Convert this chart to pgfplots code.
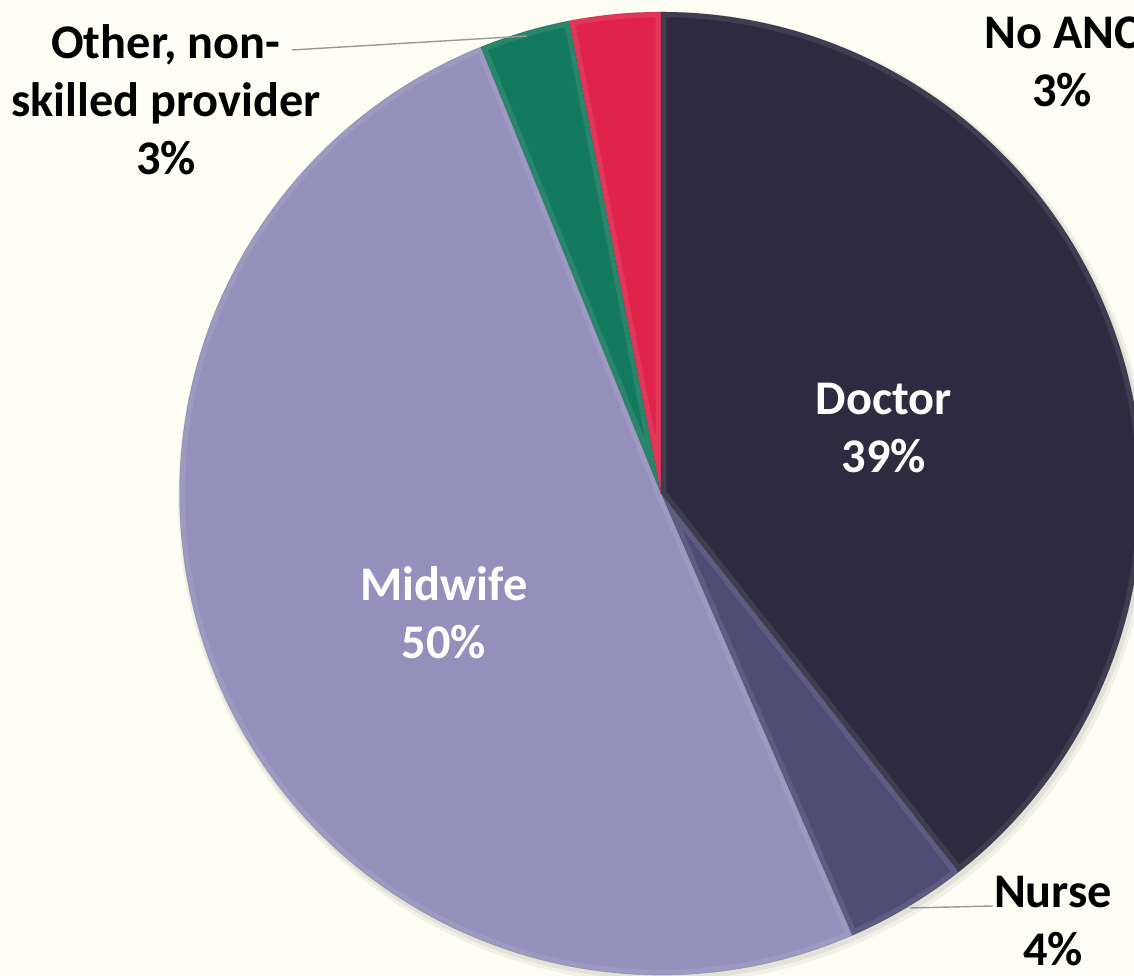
\documentclass[border=0pt]{standalone}
\usepackage{pgfplots}
\pgfplotsset{compat=1.18}
\usepackage{pgfplotstable}
\usepackage{fontspec}
\setmainfont{Carlito}
\definecolor{bg}{HTML}{FEFEF4}
\definecolor{cDoctor}{HTML}{2E2A3F}
\definecolor{cNurse}{HTML}{504C75}
\definecolor{cMidwife}{HTML}{9490BB}
\definecolor{cOther}{HTML}{147A5E}
\definecolor{cNoANC}{HTML}{E0234B}
\pgfplotstableread{
label value
Doctor 39.4
Nurse 4.1
Midwife 50.4
Other 3.05
NoANC 3.05
}\piedata
\newcommand{\piepath}[2]{(axis cs:661,482.5) -- ++(#1:9.63cm) arc[start angle=#1, end angle=#2, radius=9.63cm] -- cycle}
\newcommand{\slice}[3]{%
  \fill[#3] \piepath{#1}{#2};
  \begin{scope}
    \clip \piepath{#1}{#2};
    \draw[white, opacity=0.09, line width=6pt, line join=round] \piepath{#1}{#2};
  \end{scope}
  \draw[black, opacity=0.15, line width=0.3pt] \piepath{#1}{#2};
}
\begin{document}
\begin{tikzpicture}
\useasboundingbox (0,0) rectangle (22.68,19.52);
\clip (0,0) rectangle (22.68,19.52);
\fill[bg] (0,0) rectangle (22.68,19.52);
\begin{axis}[at={(0,0)}, anchor=south west, scale only axis,
  width=22.68cm, height=19.52cm, xmin=0, xmax=1134, ymin=0, ymax=976,
  hide axis, clip=false]
\pgfplotstablegetelem{0}{value}\of\piedata \pgfmathsetmacro{\vA}{\pgfplotsretval}
\pgfplotstablegetelem{1}{value}\of\piedata \pgfmathsetmacro{\vB}{\pgfplotsretval}
\pgfplotstablegetelem{2}{value}\of\piedata \pgfmathsetmacro{\vC}{\pgfplotsretval}
\pgfplotstablegetelem{3}{value}\of\piedata \pgfmathsetmacro{\vD}{\pgfplotsretval}
\pgfplotstablegetelem{4}{value}\of\piedata \pgfmathsetmacro{\vE}{\pgfplotsretval}
\pgfmathsetmacro{\aA}{90}
\pgfmathsetmacro{\aB}{\aA-3.6*\vA}
\pgfmathsetmacro{\aC}{\aB-3.6*\vB}
\pgfmathsetmacro{\aD}{\aC-3.6*\vC}
\pgfmathsetmacro{\aE}{\aD-3.6*\vD}
\pgfmathsetmacro{\aF}{\aE-3.6*\vE}
% soft shadow
\fill[black, opacity=0.05] (axis cs:664,478) circle[radius=9.72cm];
\fill[black, opacity=0.06] (axis cs:663,479.5) circle[radius=9.67cm];
\slice{\aA}{\aB}{cDoctor}
\slice{\aB}{\aC}{cNurse}
\slice{\aC}{\aD}{cMidwife}
\slice{\aD}{\aE}{cOther}
\slice{\aE}{\aF}{cNoANC}
% leader lines
\draw[gray!80, line width=0.8pt] (axis cs:292,926) -- (axis cs:527,940);
\draw[gray!80, line width=0.8pt] (axis cs:993,70) -- (axis cs:910,68);
% labels
\tikzset{lab/.style={font=\fontsize{27.5}{33}\selectfont\bfseries, align=center, anchor=center}}
\node[lab, text=white] at (axis cs:884,548) {Doctor\\39\%};
\node[lab, text=white] at (axis cs:444,363) {Midwife\\50\%};
\node[lab, text=black] at (axis cs:166,876) {Other, non-\\skilled provider\\3\%};
\node[lab, text=black] at (axis cs:1062,914) {No ANC\\3\%};
\node[lab, text=black] at (axis cs:1053,55) {Nurse\\4\%};
\end{axis}
\end{tikzpicture}
\end{document}
